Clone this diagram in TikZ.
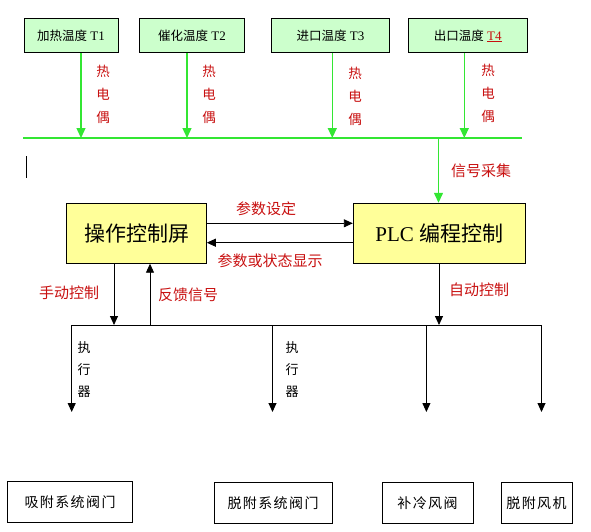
\documentclass[tikz,border=0pt]{standalone}
\usepackage{fontspec}
\setmainfont{Liberation Serif}
\newfontfamily\cjk{Noto Sans CJK SC}
\newfontfamily\cjksp[LetterSpace=10]{Noto Sans CJK SC}
\usetikzlibrary{arrows.meta}
\definecolor{gline}{RGB}{51,230,51}
\definecolor{gfill}{RGB}{204,255,204}
\definecolor{yfill}{RGB}{255,255,153}
\definecolor{rtxt}{RGB}{200,16,16}
\begin{document}
\begin{tikzpicture}[x=1pt,y=-1pt,
 tbox/.style={draw=black, line width=1pt, fill=gfill, inner sep=0pt, minimum height=34pt, font=\fontsize{13}{14}\selectfont},
 ybox/.style={draw=black, line width=1pt, fill=yfill, inner sep=0pt, minimum height=60pt, font=\fontsize{21}{23}\selectfont},
 bbox/.style={draw=black, line width=1pt, inner sep=0pt, minimum height=41pt, font=\cjksp\fontsize{14}{16}\selectfont},
 garr/.style={draw=gline, line width=1.3pt, -{Triangle[length=10pt,width=9pt]}},
 gln/.style={draw=gline, line width=1.3pt},
 barr/.style={draw=black, line width=0.9pt, -{Triangle[length=9pt,width=8pt]}},
 bln/.style={draw=black, line width=0.9pt},
 rlab/.style={text=rtxt, font=\cjk\fontsize{15}{17}\selectfont, inner sep=0pt},
 vlab/.style={text=rtxt, font=\cjk\fontsize{13.5}{23}\selectfont, align=center, inner sep=0pt},
 klab/.style={text=black, font=\cjk\fontsize{13}{22}\selectfont, align=center, inner sep=0pt},
]
\useasboundingbox (0,0) rectangle (591,532);

% top sensor boxes
\node[tbox, minimum width=94pt]    (t1) at (71,36)    {{\cjk\fontsize{12.5}{14}\selectfont 加热温度} T1};
\node[tbox, minimum width=104.7pt] (t2) at (192,36)   {{\cjk\fontsize{12.5}{14}\selectfont 催化温度} T2};
\node[tbox, minimum width=118.4pt] (t3) at (330.5,36) {{\cjk\fontsize{12.5}{14}\selectfont 进口温度} T3};
\node[tbox, minimum width=119pt]   (t4) at (467.8,36) {{\cjk\fontsize{12.5}{14}\selectfont 出口温度} {\color{rtxt}\underline{T4}}};

% green bus
\coordinate (gl) at (23.4,138);
\coordinate (gr) at (521.7,138);
\coordinate (g1) at (81,138);
\coordinate (g2) at (187,138);
\coordinate (g3) at (332.3,138);
\coordinate (g4) at (464.3,138);
\coordinate (gs) at (438.5,138);
\draw[gln] (gl) -- (gr);
\draw[garr] (81,0 |- t1.south) -- (g1);
\draw[garr] (187,0 |- t2.south) -- (g2);
\draw[garr] (332.3,0 |- t3.south) -- (g3);
\draw[garr] (464.3,0 |- t4.south) -- (g4);

\node[vlab] (r1) at (103,94) {热\\电\\偶};
\node[vlab] (r2) at (209,94) {热\\电\\偶};
\node[vlab] (r3) at (355,96) {热\\电\\偶};
\node[vlab] (r4) at (488,93) {热\\电\\偶};

% cursor mark
\coordinate (c1) at (26.5,156);
\coordinate (c2) at (26.5,178);
\draw[line width=1.6pt] (c1) -- (c2);

% control boxes
\node[ybox, minimum width=139.6pt] (op)  at (136.5,233.2) {\cjk 操作控制屏};
\node[ybox, minimum width=172pt]   (plc) at (439.3,233.3) {PLC {\cjk 编程控制}};

\draw[garr] (gs) -- (438.5,0 |- plc.north);
\node[rlab] (sig) at (481,170.5) {信号采集};

\draw[barr] (op.east |- 0,223.3) -- (plc.west |- 0,223.3);
\draw[barr] (plc.west |- 0,242.7) -- (op.east |- 0,242.7);
\node[rlab] (l1) at (266,209) {参数设定};
\node[rlab] (l2) at (270,261) {参数或状态显示};

% actuator bus
\coordinate (bl) at (71.7,325);
\coordinate (br) at (541.5,325);
\coordinate (m1) at (114,325);
\coordinate (f1) at (150,325);
\coordinate (a0) at (439,325);
\draw[bln] (bl) -- (br);
\draw[barr] (114,0 |- op.south) -- (m1);
\draw[barr] (f1) -- (150,0 |- op.south);
\draw[barr] (439,0 |- plc.south) -- (a0);
\node[rlab] (l3) at (69,292.7) {手动控制};
\node[rlab] (l4) at (188,294.5) {反馈信号};
\node[rlab] (l5) at (479,290) {自动控制};

\coordinate (d1) at (71.7,412);
\coordinate (d2) at (272.5,412);
\coordinate (d3) at (426.4,412);
\coordinate (d4) at (541.5,412);
\coordinate (u2) at (272.5,325);
\coordinate (u3) at (426.4,325);
\draw[barr] (bl) -- (d1);
\draw[barr] (u2) -- (d2);
\draw[barr] (u3) -- (d3);
\draw[barr] (br) -- (d4);

\node[klab] (k1) at (84,370)  {执\\行\\器};
\node[klab] (k2) at (292,370) {执\\行\\器};

% bottom boxes
\node[bbox, minimum width=125.4pt] (b1) at (70,502.2)    {吸附系统阀门};
\node[bbox, minimum width=118pt]   (b2) at (273,503.2)   {脱附系统阀门};
\node[bbox, minimum width=91pt]    (b3) at (427.5,503.2) {补冷风阀};
\node[bbox, minimum width=71pt]    (b4) at (536.5,503.2) {脱附风机};
\end{tikzpicture}
\end{document}
